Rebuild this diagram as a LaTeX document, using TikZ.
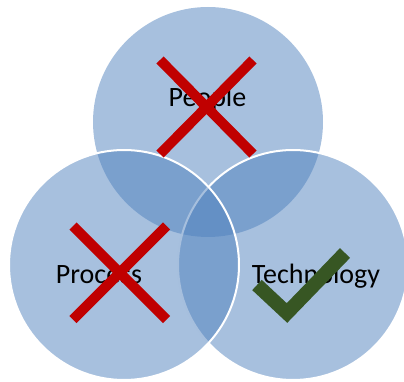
\documentclass[tikz,border=0pt]{standalone}
\usepackage{fontspec}
\setmainfont{Carlito}
\definecolor{vblue}{RGB}{79,129,189}
\definecolor{xred}{RGB}{192,0,0}
\definecolor{tgreen}{RGB}{55,86,35}
\begin{document}
\begin{tikzpicture}[x=1pt,y=-1pt,
  venn/.style={fill=vblue,fill opacity=0.5},
  vennline/.style={venn,draw=white,line width=2pt},
  lbl/.style={anchor=base,font=\fontsize{28}{34}\selectfont,text=black,inner sep=0pt},
  cross/.style={draw=xred,line width=10pt,line cap=butt},
  tick/.style={draw=tgreen,line width=14pt,line cap=butt,line join=miter}]
\useasboundingbox (0,0) rectangle (404,382);
\path[venn] (208,122) circle[radius=115];
\path[vennline] (293,265) circle[radius=115];
\path[vennline] (124,265) circle[radius=115];
\node[lbl] (people) at (207.5,107) {People};
\node[lbl] (process) at (99,283) {Process};
\node[lbl] (tech) at (316,283) {Technology};
\coordinate (p1) at (160,60); \coordinate (p2) at (253,154);
\coordinate (p3) at (253,60); \coordinate (p4) at (160,154);
\draw[cross] (p1) -- (p2);
\draw[cross] (p3) -- (p4);
\coordinate (q1) at (73,226); \coordinate (q2) at (166.5,319.5);
\coordinate (q3) at (166.5,226); \coordinate (q4) at (73,319.5);
\draw[cross] (q1) -- (q2);
\draw[cross] (q3) -- (q4);
\coordinate (t1) at (257,285); \coordinate (t2) at (287,313); \coordinate (t3) at (345,253);
\draw[tick] (t1) -- (t2) -- (t3);
\end{tikzpicture}
\end{document}
